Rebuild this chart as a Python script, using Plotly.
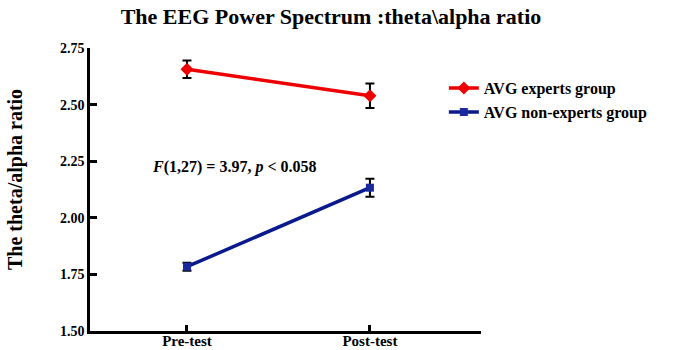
import plotly.graph_objects as go

categories = ["Pre-test", "Post-test"]
experts = [2.656, 2.539]
experts_err = [0.039, 0.054]
nonexperts = [1.784, 2.133]
nonexperts_err = [0.018, 0.040]
y_ticks = [1.50, 1.75, 2.00, 2.25, 2.50, 2.75]

SERIF = "Liberation Serif"
x_idx = list(range(len(categories)))

fig = go.Figure()
fig.add_trace(go.Scatter(
    x=x_idx, y=experts, name="<b>AVG experts group</b>", mode="lines+markers",
    line=dict(color="#ee0000", width=3.5),
    marker=dict(symbol="diamond", size=10, color="#ee0000"),
    error_y=dict(type="data", array=experts_err, color="black", thickness=2, width=4.5),
))
fig.add_trace(go.Scatter(
    x=x_idx, y=nonexperts, name="<b>AVG non-experts group</b>", mode="lines+markers",
    line=dict(color="#0a1a8c", width=3.5),
    marker=dict(symbol="square", size=8, color="#1a2a9c"),
    error_y=dict(type="data", array=nonexperts_err, color="black", thickness=2, width=4.5),
))

fig.update_layout(
    width=680, height=350,
    margin=dict(l=90, r=199, t=48, b=19),
    paper_bgcolor="white", plot_bgcolor="white",
    title=dict(text="<b>The EEG Power Spectrum :theta\\alpha ratio</b>",
               x=331/680, xanchor="center", y=1-16/350, yanchor="middle",
               font=dict(family=SERIF, size=22, color="black")),
    showlegend=True,
    legend=dict(x=0.905, y=0.918, xanchor="left", yanchor="top",
                font=dict(family=SERIF, size=16, color="black"),
                bgcolor="rgba(0,0,0,0)", tracegroupgap=0),
    font=dict(family=SERIF, color="black"),
)
fig.update_xaxes(
    range=[-0.53, 1.607], tickmode="array", tickvals=x_idx,
    ticktext=["<b>%s</b>" % c for c in categories],
    showline=True, linecolor="black", linewidth=2.5,
    ticks="inside", ticklen=6, tickwidth=2.5, tickcolor="black",
    showgrid=False, zeroline=False, automargin=False,
    ticklabelstandoff=-6,
    tickfont=dict(family=SERIF, size=15, color="black"),
)
fig.update_yaxes(
    range=[1.5, 2.75], tickmode="array", tickvals=y_ticks,
    ticktext=["<b>%.2f</b>" % v for v in y_ticks],
    showline=True, linecolor="black", linewidth=2.5,
    ticks="inside", ticklen=7, tickwidth=2.5, tickcolor="black",
    showgrid=False, zeroline=False, automargin=False,
    tickfont=dict(family=SERIF, size=14, color="black"),
)
fig.add_annotation(
    text="<b>The theta/alpha ratio</b>", textangle=-90,
    x=(15 - 90) / 391, xref="paper", y=(331 - 180) / 283, yref="paper",
    xanchor="center", yanchor="middle", showarrow=False,
    font=dict(family=SERIF, size=20, color="black"),
)
fig.add_annotation(
    text="<b><i>F</i>(1,27) = 3.97, <i>p</i> &lt; 0.058</b>",
    x=-0.2, xref="x", y=2.224, yref="y",
    xanchor="left", yanchor="middle", showarrow=False,
    font=dict(family=SERIF, size=16, color="black"),
)
fig.write_html("out.html", config={"displayModeBar": False},
               post_script="document.body.style.margin='0px';")
